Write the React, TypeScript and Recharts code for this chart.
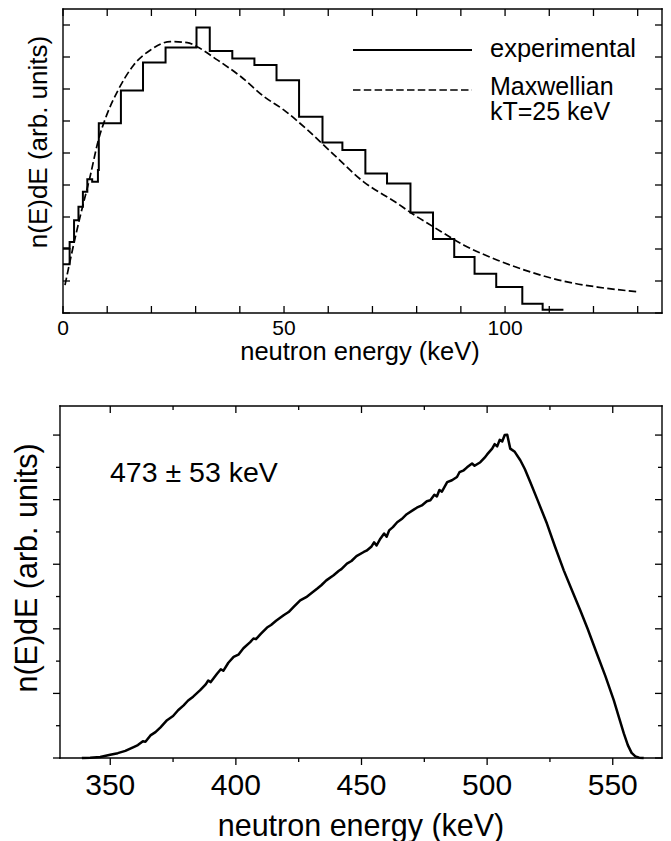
import React from 'react';
import { LineChart, Line, XAxis, YAxis } from 'recharts';

const FONT = '"Liberation Sans", Arial, Helvetica, sans-serif';

// ---------- top panel data ----------
const histEdges = [0, 1.5, 2.5, 3.5, 4.5, 5.5, 6.6, 7.9, 8.1, 13.1, 18.1, 23.2, 30.2, 33.2, 38.3, 43.3, 48.3, 53.4, 58.7, 63.2, 68.4, 73.3, 78.6, 83.7, 88.5, 93.1, 98.0, 103.9, 108.5, 113.2];
const histValues = [2.02, 2.22, 2.9, 3.32, 3.79, 4.18, 4.1, 4.47, 5.93, 6.95, 7.83, 8.3, 8.92, 8.19, 7.95, 7.75, 7.27, 6.13, 5.33, 5.09, 4.36, 4.05, 3.14, 2.31, 1.75, 1.23, 0.81, 0.29, 0.1, 0.1];
const histLowEdges = [0, 1.5, 1.5];
const histLowValues = [1.52, 1.52, 2.02];
const maxwellE = [0.45, 1.96, 3.85, 6.12, 8.0, 9.9, 12.3, 16.0, 19.8, 24.3, 28.1, 30.2, 34.9, 40.2, 45.5, 50.0, 55.3, 60.5, 68.0, 75.6, 78.6, 83.7, 90.7, 98.3, 105.8, 113.4, 120.9, 130.4];
const maxwellV = [0.87, 1.86, 3.0, 4.26, 5.4, 6.19, 6.92, 7.75, 8.22, 8.48, 8.45, 8.33, 7.91, 7.39, 6.76, 6.34, 5.72, 5.05, 4.1, 3.43, 3.14, 2.7, 2.12, 1.65, 1.28, 0.99, 0.81, 0.66];
const topXTicks = [0, 10, 20, 30, 40, 50, 60, 70, 80, 90, 100, 110, 120, 130];
const topXLabels = [0, 50, 100];
const topYTicks = [0, 1, 2, 3, 4, 5, 6, 7, 8, 9];

// ---------- bottom panel data ----------
const spectrum: [number, number][] = [
  [338.7, 0], [342, 0.01], [346, 0.03], [350, 0.1], [353, 0.15], [356, 0.22], [359.3, 0.34], [361, 0.4],
  [363, 0.52], [364, 0.5], [366, 0.7], [368, 0.8], [370, 0.95], [372.6, 1.17], [375, 1.3], [377, 1.48],
  [379.2, 1.63], [381, 1.78], [383, 1.9], [385.8, 2.1], [388, 2.28], [389, 2.4], [390, 2.35], [392.5, 2.61],
  [394, 2.75], [395, 2.7], [397, 2.95], [399.1, 3.13], [401, 3.2], [403, 3.4], [405.7, 3.59], [407, 3.7],
  [408, 3.68], [410, 3.85], [412.4, 4.04], [414, 4.12], [416, 4.25], [419, 4.42], [421, 4.52], [423, 4.68],
  [425.6, 4.88], [428, 4.98], [430, 5.1], [432.3, 5.24], [434, 5.35], [436, 5.5], [438.9, 5.66], [441, 5.8],
  [442, 5.85], [444.2, 6.02], [446, 6.1], [448, 6.25], [450.9, 6.38], [452, 6.42], [454, 6.55], [455, 6.68],
  [456, 6.58], [457.5, 6.79], [459, 6.95], [460, 6.85], [461, 7.05], [462.5, 7.15], [464.2, 7.3], [466, 7.4],
  [468, 7.55], [470.8, 7.69], [472, 7.75], [474, 7.82], [476, 7.95], [477.4, 7.98], [479, 8.15], [480, 8.1],
  [481, 8.3], [482, 8.25], [484.1, 8.54], [486, 8.6], [488, 8.7], [489, 8.85], [490.7, 8.91], [492, 9.0],
  [494, 9.12], [495, 9.05], [497.3, 9.16], [499, 9.3], [500, 9.4], [502, 9.58], [503, 9.72], [504, 9.65],
  [505, 9.85], [506, 9.8], [507, 10.0], [508, 10.01], [509.2, 9.58], [511, 9.48], [513.2, 9.22], [515, 8.95],
  [517.2, 8.54], [520, 8.0], [523.8, 7.26], [527, 6.55], [530.5, 5.81], [534, 5.15], [537.1, 4.57], [540, 4.0],
  [543.7, 3.23], [547, 2.55], [550.4, 1.79], [552.5, 1.25], [554.4, 0.76], [556, 0.4], [557.5, 0.16], [559, 0.05],
  [560.5, 0.01], [562.3, 0],
];
const botXTicks = [350, 375, 400, 425, 450, 475, 500, 525, 550];
const botXLabels = [350, 400, 450, 500, 550];
const botYTicks = [0, 1, 2, 3, 4, 5, 6, 7, 8, 9, 10];

// ---------- built tables ----------
const histData = histEdges.map((x, i) => ({ x, y: histValues[i] }));
const histLowData = histLowEdges.map((x, i) => ({ x, y: histLowValues[i] }));
const maxwellData = maxwellE.map((x, i) => ({ x, y: maxwellV[i] }));
const spectrumData = spectrum.map(([x, y]) => ({ x, y }));

const AX = { stroke: '#000', strokeWidth: 1.4, strokeLinecap: 'square' as const };

// ---------- tick renderers ----------
const topBottomTick = (p: any) => {
  const { x, y, payload } = p;
  const v = payload.value;
  return (
    <g>
      <line x1={x} y1={y} x2={x} y2={y - 7} stroke="#000" strokeWidth={1.3} />
      {topXLabels.includes(v) && (
        <text x={x} y={y + 22} textAnchor="middle" fontSize={21} fontFamily={FONT} fill="#000">{v}</text>
      )}
    </g>
  );
};
const topTopTick = (p: any) => (
  <line x1={p.x} y1={p.y} x2={p.x} y2={p.y + 7} stroke="#000" strokeWidth={1.3} />
);
const topLeftTick = (p: any) => (
  <line x1={p.x} y1={p.y} x2={p.x + 7} y2={p.y} stroke="#000" strokeWidth={1.3} />
);
const topRightTick = (p: any) => (
  <line x1={p.x} y1={p.y} x2={p.x - 7} y2={p.y} stroke="#000" strokeWidth={1.3} />
);

const botBottomTick = (p: any) => {
  const { x, y, payload } = p;
  const v = payload.value;
  const major = botXLabels.includes(v);
  return (
    <g>
      <line x1={x} y1={y} x2={x} y2={y + (major ? 7 : 4)} stroke="#000" strokeWidth={1.3} />
      {major && (
        <text x={x} y={y + 37} textAnchor="middle" fontSize={30} fontFamily={FONT} fill="#000">{v}</text>
      )}
    </g>
  );
};
const botTopTick = (p: any) => {
  const major = botXLabels.includes(p.payload.value);
  return <line x1={p.x} y1={p.y} x2={p.x} y2={p.y + (major ? 7 : 4)} stroke="#000" strokeWidth={1.3} />;
};
const botLeftTick = (p: any) => {
  const major = p.payload.value % 2 === 0;
  return <line x1={p.x} y1={p.y} x2={p.x - (major ? 7 : 4)} y2={p.y} stroke="#000" strokeWidth={1.3} />;
};
const botRightTick = (p: any) => {
  const major = p.payload.value % 2 === 0;
  return <line x1={p.x} y1={p.y} x2={p.x - (major ? 7 : 4)} y2={p.y} stroke="#000" strokeWidth={1.3} />;
};

// ---------- annotations ----------
const topTexts = () => (
  <g fontFamily={FONT} fill="#000">
    <text x={360} y={360} textAnchor="middle" fontSize={25.5}>neutron energy (keV)</text>
    <text x={47} y={142} textAnchor="middle" fontSize={26} transform="rotate(-90 47 142)">n(E)dE (arb. units)</text>
    <line x1={353} y1={50} x2={472} y2={50} stroke="#000" strokeWidth={2} />
    <text x={490} y={57} fontSize={25.5}>experimental</text>
    <line x1={353} y1={90} x2={472} y2={90} stroke="#000" strokeWidth={1.7} strokeDasharray="7.5 3.3" />
    <text x={490} y={95} fontSize={25}>Maxwellian</text>
    <text x={490} y={120} fontSize={25}>kT=25 keV</text>
  </g>
);

const botTexts = () => (
  <g fontFamily={FONT} fill="#000">
    <text x={361} y={836} textAnchor="middle" fontSize={30.5}>neutron energy (keV)</text>
    <text x={37} y={568} textAnchor="middle" fontSize={30.5} transform="rotate(-90 37 568)">n(E)dE (arb. units)</text>
    <text x={110} y={482} fontSize={28.5}>473 ± 53 keV</text>
  </g>
);

export default function App() {
  return (
    <div style={{ position: 'absolute', left: 0, top: 0, width: 671, height: 841, background: '#fff' }}>
      <div style={{ position: 'absolute', left: 0, top: 0 }}>
        <LineChart width={671} height={380} margin={{ top: 8, right: 8, bottom: 66, left: 62 }}>
          <XAxis xAxisId="b" type="number" dataKey="x" domain={[0, 135.5]} ticks={topXTicks} interval={0}
            height={1} tickSize={0} tickMargin={0} tickLine={false} axisLine={AX} tick={topBottomTick} />
          <XAxis xAxisId="t" orientation="top" type="number" dataKey="x" domain={[0, 135.5]} allowDataOverflow
            ticks={topXTicks} interval={0} height={1} tickSize={0} tickMargin={0} tickLine={false} axisLine={AX}
            tick={topTopTick} label={{ content: topTexts }} />
          <YAxis yAxisId="l" type="number" domain={[0, 9.5]} ticks={topYTicks} interval={0} width={1}
            tickSize={0} tickMargin={0} tickLine={false} axisLine={AX} tick={topLeftTick} />
          <YAxis yAxisId="r" orientation="right" type="number" domain={[0, 9.5]} allowDataOverflow ticks={topYTicks}
            interval={0} width={1} tickSize={0} tickMargin={0} tickLine={false} axisLine={AX} tick={topRightTick} />
          <Line xAxisId="b" yAxisId="l" data={histLowData} dataKey="y" type="linear" stroke="#000" strokeWidth={2}
            dot={false} activeDot={false} isAnimationActive={false} />
          <Line xAxisId="b" yAxisId="l" data={histData} dataKey="y" type="stepAfter" stroke="#000" strokeWidth={2}
            dot={false} activeDot={false} isAnimationActive={false} />
          <Line xAxisId="b" yAxisId="l" data={maxwellData} dataKey="y" type="monotone" stroke="#000" strokeWidth={1.7}
            strokeDasharray="7.5 3.3" dot={false} activeDot={false} isAnimationActive={false} />
        </LineChart>
      </div>
      <div style={{ position: 'absolute', left: 0, top: 0 }}>
        <LineChart width={671} height={841} margin={{ top: 405, right: 8, bottom: 82, left: 59 }}>
          <XAxis xAxisId="b" type="number" dataKey="x" domain={[330, 569.6]} ticks={botXTicks} interval={0}
            height={1} tickSize={0} tickMargin={0} tickLine={false} axisLine={AX} tick={botBottomTick} />
          <XAxis xAxisId="t" orientation="top" type="number" dataKey="x" domain={[330, 569.6]} allowDataOverflow
            ticks={botXTicks} interval={0} height={1} tickSize={0} tickMargin={0} tickLine={false} axisLine={AX}
            tick={botTopTick} label={{ content: botTexts }} />
          <YAxis yAxisId="l" type="number" domain={[0, 10.9]} ticks={botYTicks} interval={0} width={1}
            tickSize={0} tickMargin={0} tickLine={false} axisLine={AX} tick={botLeftTick} />
          <YAxis yAxisId="r" orientation="right" type="number" domain={[0, 10.9]} allowDataOverflow ticks={botYTicks}
            interval={0} width={1} tickSize={0} tickMargin={0} tickLine={false} axisLine={AX} tick={botRightTick} />
          <Line xAxisId="b" yAxisId="l" data={spectrumData} dataKey="y" type="linear" stroke="#000" strokeWidth={2.5}
            strokeLinejoin="round" dot={false} activeDot={false} isAnimationActive={false} />
        </LineChart>
      </div>
    </div>
  );
}
